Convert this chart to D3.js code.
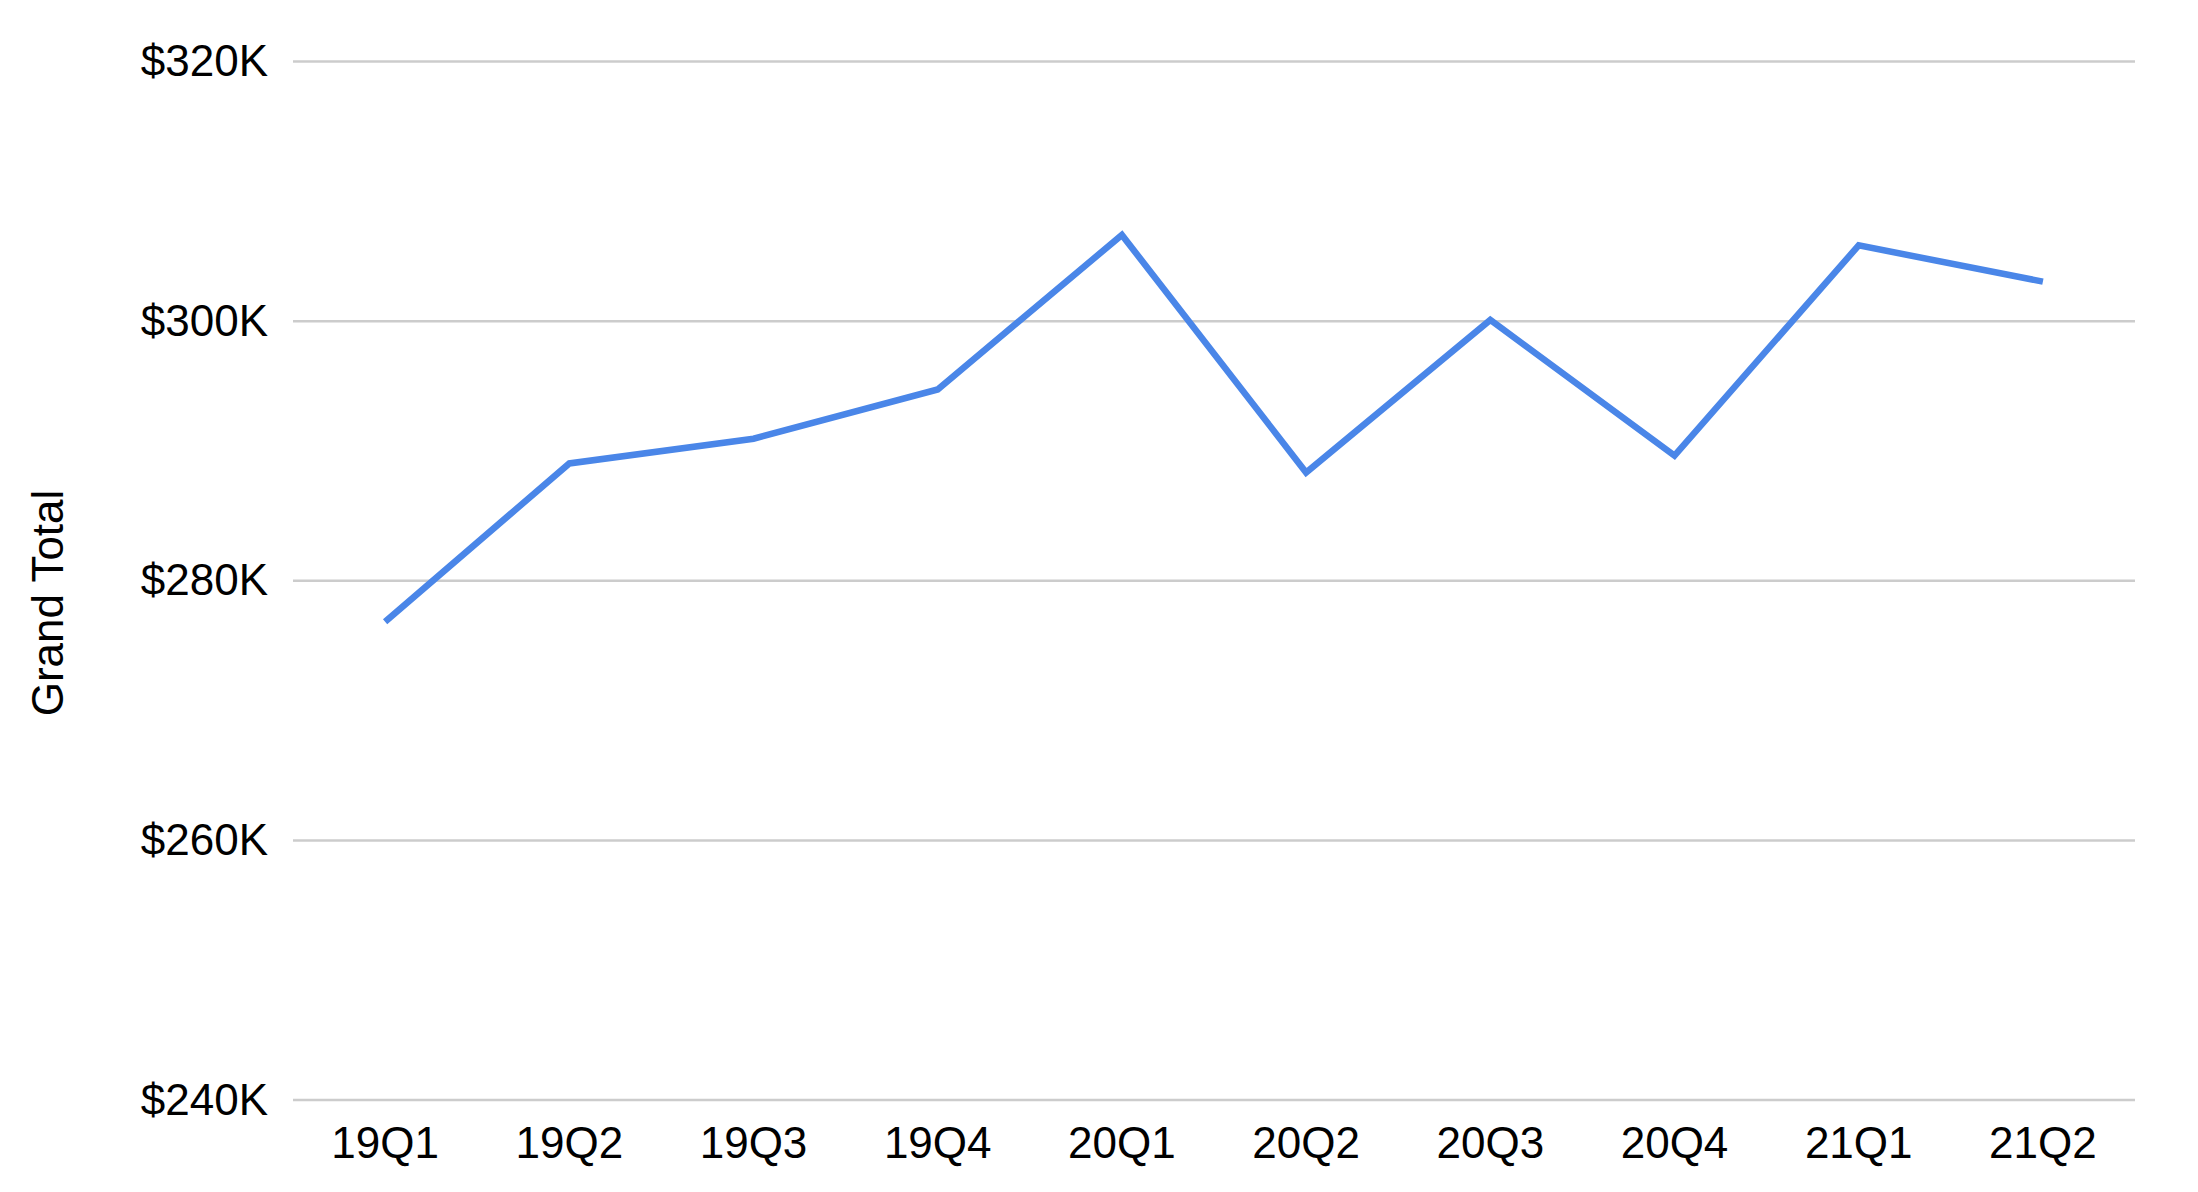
<!DOCTYPE html>
<html>
<head>
<meta charset="utf-8">
<script src="https://cdn.jsdelivr.net/npm/d3@7"></script>
<style>
  html, body { margin: 0; padding: 0; background: #ffffff; }
  svg { display: block; }
  text { font-family: "Liberation Sans", Arial, sans-serif; fill: #000; }
</style>
</head>
<body>
<svg id="chart" width="2198" height="1192"></svg>
<script>
const categories = ["19Q1","19Q2","19Q3","19Q4","20Q1","20Q2","20Q3","20Q4","21Q1","21Q2"];
const grandTotal = [276800, 289000, 290900, 294700, 306600, 288300, 300050, 289600, 305800, 303000];
const yTicks = [240000, 260000, 280000, 300000, 320000];
const yTickLabels = ["$240K", "$260K", "$280K", "$300K", "$320K"];
const yTitle = "Grand Total";

(function () {
  const svg = d3.select("#chart");
  const W = 2198, H = 1192;
  const plotLeft = 293, plotRight = 2135, plotTop = 61, plotBottom = 1099.5;

  svg.append("rect").attr("width", W).attr("height", H).attr("fill", "#fff");

  const x = d3.scaleBand().domain(categories).range([plotLeft, plotRight]).padding(0);
  const y = d3.scaleLinear().domain([240000, 320000]).range([plotBottom, plotTop]);

  // Y axis with gridlines
  const yAxis = d3.axisLeft(y)
    .tickValues(yTicks)
    .tickFormat((d, i) => yTickLabels[i])
    .tickSize(-(plotRight - plotLeft))
    .tickPadding(25);

  const gy = svg.append("g").attr("transform", `translate(${plotLeft},0)`).call(yAxis);
  gy.select(".domain").remove();
  gy.selectAll(".tick line").attr("stroke", "#cccccc").attr("stroke-width", 2.5);
  gy.selectAll(".tick text")
    .attr("font-size", 44)
    .attr("font-family", "'Liberation Sans', Arial, sans-serif")
    .attr("dy", "0.33em")
    .attr("fill", "#000");

  // X axis
  const xAxis = d3.axisBottom(x).tickSize(0).tickPadding(0);
  const gx = svg.append("g").attr("transform", `translate(0,${plotBottom})`).call(xAxis);
  gx.select(".domain").remove();
  gx.selectAll(".tick text")
    .attr("font-size", 44)
    .attr("font-family", "'Liberation Sans', Arial, sans-serif")
    .attr("y", 58)
    .attr("dy", 0)
    .attr("fill", "#000");

  // Y title
  svg.append("text")
    .attr("transform", `translate(63,603) rotate(-90)`)
    .attr("text-anchor", "middle")
    .attr("font-size", 44)
    .text(yTitle);

  // Line
  const line = d3.line()
    .x((d, i) => x(categories[i]) + x.bandwidth() / 2)
    .y(d => y(d));

  svg.append("path")
    .datum(grandTotal)
    .attr("d", line)
    .attr("fill", "none")
    .attr("stroke", "#4a86e8")
    .attr("stroke-width", 6.5)
    .attr("stroke-linejoin", "miter")
    .attr("stroke-linecap", "butt");
})();
</script>
</body>
</html>
